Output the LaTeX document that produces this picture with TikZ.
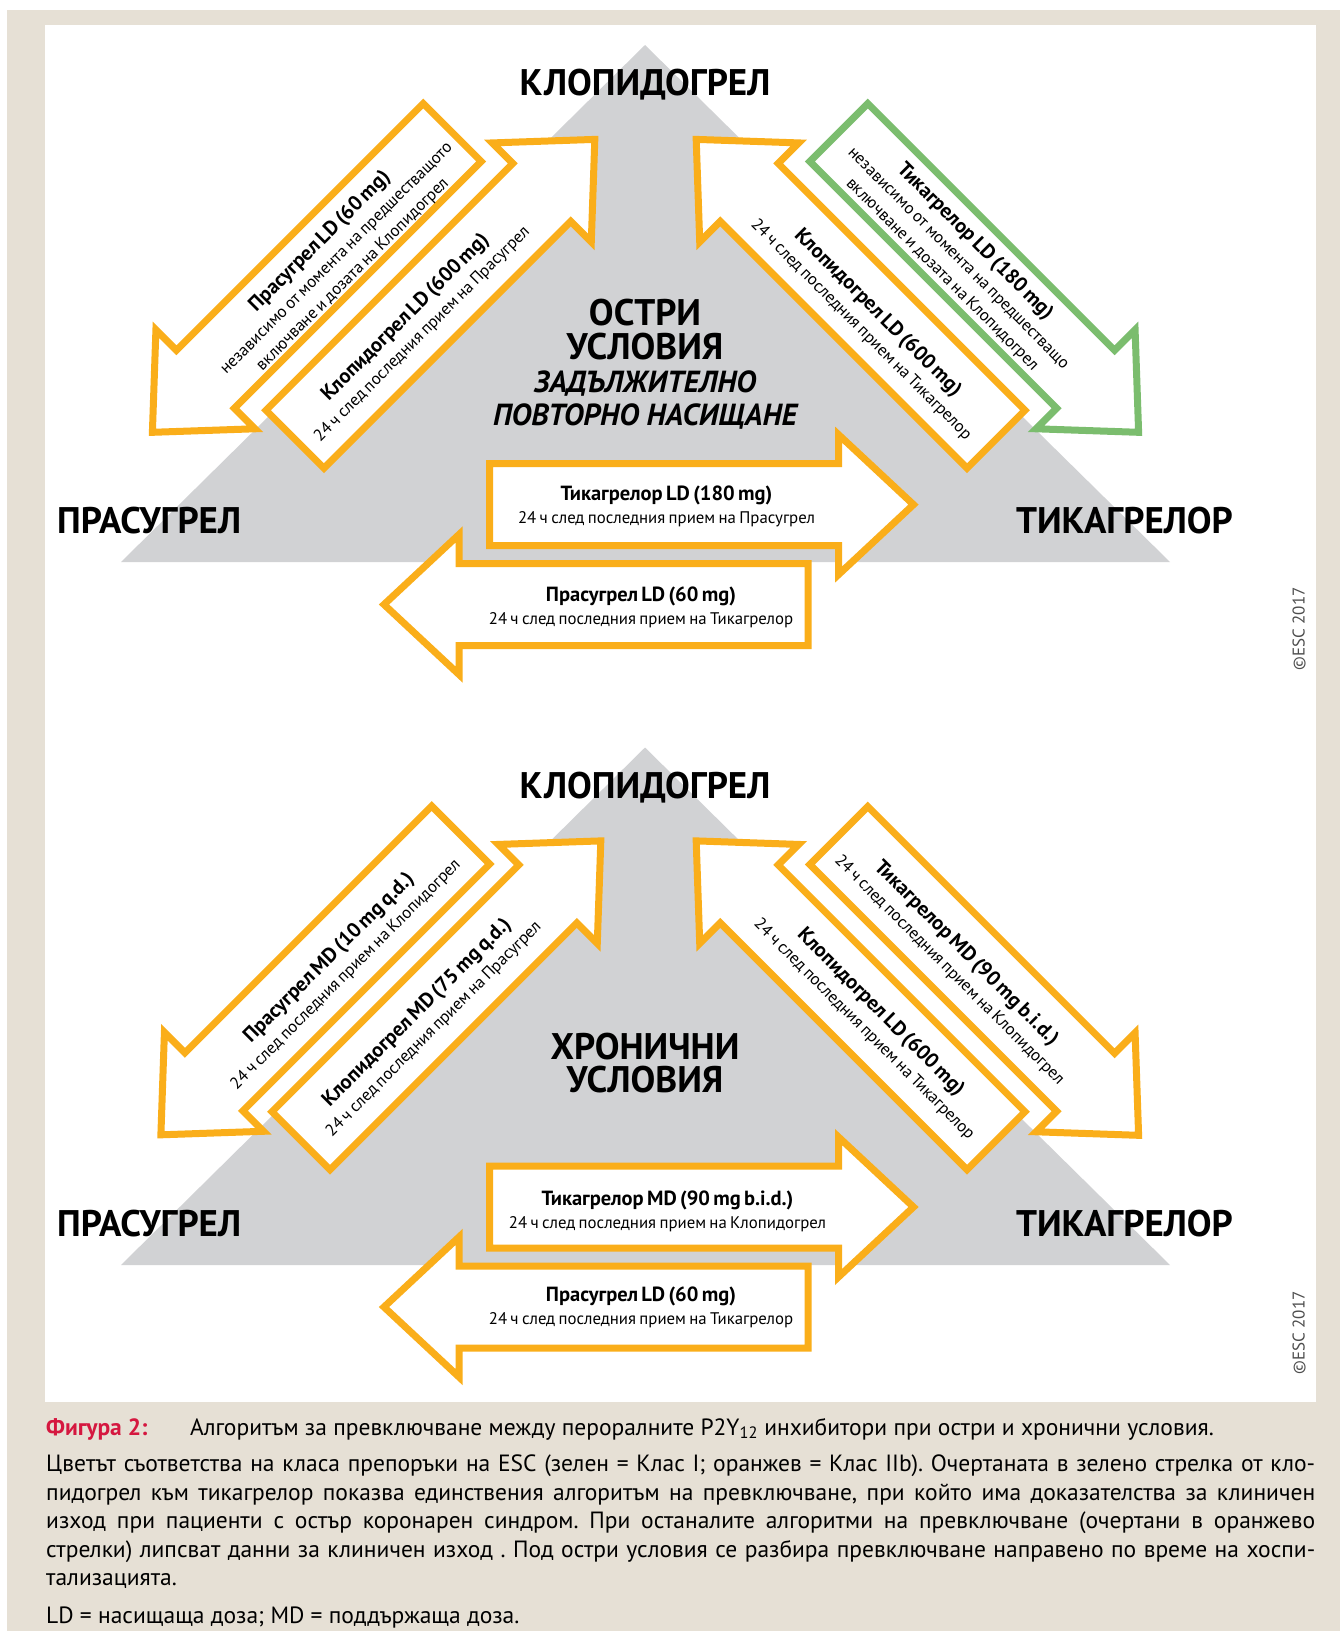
\documentclass[tikz,border=0pt]{standalone}
\usepackage{fontspec}
\setmainfont{PT Sans}

\definecolor{pagebg}{HTML}{E6E0D5}
\definecolor{trigray}{HTML}{D1D2D4}
\definecolor{orng}{HTML}{FAAE1A}
\definecolor{grn}{HTML}{7BBD6E}
\definecolor{figred}{HTML}{D5173F}
\definecolor{copygray}{HTML}{4D4D4D}

% Hollow block arrow: tail centre (#1,#2), direction #3 (degrees), outline colour #4
\newcommand{\outlinearrow}[4]{%
  \begin{scope}[shift={(#1,#2)},rotate=#3]
    \draw[arrowframe,draw=#4] (0,-41) -- (349,-41) -- (349,-70) -- (424,0)
      -- (349,70) -- (349,41) -- (0,41) -- cycle;
  \end{scope}}

% Text inside an arrow: bold dose line, then the regular lines
\newcommand{\doselabel}[2]{%
  {\bfseries\fontsize{20.5}{23}\selectfont #1\par}%
  {\fontsize{16.8}{22.8}\selectfont #2\par}}

\tikzset{
  arrowframe/.style={line width=7pt, fill=white, miter limit=10},
  dose/.style={text width=430pt, align=center, inner sep=0pt},
  drug/.style={font=\bfseries\fontsize{37}{40}\selectfont, inner sep=0pt, anchor=base},
  setting/.style={font=\bfseries\fontsize{37}{40}\selectfont, inner sep=0pt, anchor=base},
  reload/.style={font=\bfseries\itshape\fontsize{30.5}{36}\selectfont, inner sep=0pt, anchor=base},
  caption/.style={font=\fontsize{23.5}{28}\selectfont\frenchspacing, anchor=base west, inner sep=0pt},
  copyright/.style={font=\fontsize{17}{20}\selectfont, text=copygray, rotate=90, inner sep=0pt}
}

\begin{document}
\begin{tikzpicture}[x=1pt,y=-1pt]
\useasboundingbox (0,0) rectangle (1340,1631);
\fill[white] (0,0) rectangle (1340,1631);
\fill[pagebg] (7,10) rectangle (1340,1631);
\fill[white] (45,25) rectangle (1315.7,1402);

% ---------------- acute setting ----------------
\fill[trigray] (645,45) -- (1170,562) -- (121,562) -- cycle;

\outlinearrow{452.2}{132.5}{225}{orng}
\outlinearrow{295}{439.2}{45}{orng}
\outlinearrow{996}{439.2}{135}{orng}
\outlinearrow{838.8}{132.5}{-45}{grn}
\outlinearrow{489.5}{504.6}{0}{orng}
\outlinearrow{808}{604.5}{180}{orng}

\node[drug] (clopiA) at (645,95) {КЛОПИДОГРЕЛ};
\node[drug, anchor=base west] (prasA) at (57,533.5) {ПРАСУГРЕЛ};
\node[drug, anchor=base east] (ticaA) at (1233,533.5) {ТИКАГРЕЛОР};

\node[setting] (acute1) at (645,325.5) {ОСТРИ};
\node[setting] (acute2) at (645,359) {УСЛОВИЯ};
\node[reload] (reload1) at (645,392) {ЗАДЪЛЖИТЕЛНО};
\node[reload] (reload2) at (645,425.5) {ПОВТОРНО НАСИЩАНЕ};

\node[dose, rotate=45] (txtA) at (335.8,257.5)
  {\doselabel{Прасугрел LD (60 mg)}{независимо от момента на предшестващото\\включване и дозата на Клопидогрел}};
\node[dose, rotate=45] (txtB) at (413.3,325.4)
  {\doselabel{Клопидогрел LD (600 mg)}{24 ч след последния прием на Прасугрел}};
\node[dose, rotate=-45] (txtC) at (870,320.8)
  {\doselabel{Клопидогрел LD (600 mg)}{24 ч след последния прием на Тикагрелор}};
\node[dose, rotate=-45] (txtD) at (959.2,257.5)
  {\doselabel{Тикагрелор LD (180 mg)}{независимо от момента на предшестващо\\включване и дозата на Клопидогрел}};
\node[dose] (txtE) at (666.5,506)
  {\doselabel{Тикагрелор LD (180 mg)}{24 ч след последния прием на Прасугрел}};
\node[dose] (txtF) at (641,607.5)
  {\doselabel{Прасугрел LD (60 mg)}{24 ч след последния прием на Тикагрелор}};

\node[copyright] (escA) at (1299,629) {©ESC 2017};

% ---------------- chronic setting ----------------
\fill[trigray] (645,747.5) -- (1170,1265) -- (121,1265) -- cycle;

\outlinearrow{460.7}{835}{225}{orng}
\outlinearrow{301}{1140.7}{45}{orng}
\outlinearrow{996}{1140.7}{135}{orng}
\outlinearrow{838.8}{835.5}{-45}{orng}
\outlinearrow{489.5}{1207}{0}{orng}
\outlinearrow{808}{1307}{180}{orng}

\node[drug] (clopiB) at (645,798) {КЛОПИДОГРЕЛ};
\node[drug, anchor=base west] (prasB) at (57,1236) {ПРАСУГРЕЛ};
\node[drug, anchor=base east] (ticaB) at (1233,1236) {ТИКАГРЕЛОР};

\node[setting] (chronic1) at (645,1059) {ХРОНИЧНИ};
\node[setting] (chronic2) at (645,1092) {УСЛОВИЯ};

\node[dose, rotate=45] (txtA2) at (337,965.8)
  {\doselabel{Прасугрел MD (10 mg q.d.)}{24 ч след последния прием на Клопидогрел}};
\node[dose, rotate=45] (txtB2) at (425,1020.4)
  {\doselabel{Клопидогрел MD (75 mg q.d.)}{24 ч след последния прием на Прасугрел}};
\node[dose, rotate=-45] (txtC2) at (872.9,1020.4)
  {\doselabel{Клопидогрел LD (600 mg)}{24 ч след последния прием на Тикагрелор}};
\node[dose, rotate=-45] (txtD2) at (958.3,961.3)
  {\doselabel{Тикагрелор MD (90 mg b.i.d.)}{24 ч след последния прием на Клопидогрел}};
\node[dose] (txtE2) at (667.5,1211.5)
  {\doselabel{Тикагрелор MD (90 mg b.i.d.)}{24 ч след последния прием на Клопидогрел}};
\node[dose] (txtF2) at (641,1307)
  {\doselabel{Прасугрел LD (60 mg)}{24 ч след последния прием на Тикагрелор}};

\node[copyright] (escB) at (1299,1333) {©ESC 2017};

% ---------------- caption ----------------
\node[caption, font=\bfseries\fontsize{23.5}{28}\selectfont, text=figred] (figlabel) at (46,1435) {Фигура 2:};
\node[caption] (figtitle) at (190,1435)
  {Алгоритъм за превключване между пероралните P2Y\textsubscript{12} инхибитори при остри и хронични условия.};
\node[caption] (cap1) at (46,1471)
  {\hbox to 1269pt{Цветът съответства на класа препоръки на ESC (зелен = Клас I; оранжев = Клас IIb). Очертаната в зелено стрелка от кло-}};
\node[caption] (cap2) at (46,1500)
  {\hbox to 1269pt{пидогрел към тикагрелор показва единствения алгоритъм на превключване, при който има доказателства за клиничен}};
\node[caption] (cap3) at (46,1528)
  {\hbox to 1269pt{изход при пациенти с остър коронарен синдром. При останалите алгоритми на превключване (очертани в оранжево}};
\node[caption] (cap4) at (46,1557)
  {\hbox to 1269pt{стрелки) липсват данни за клиничен изход . Под остри условия се разбира превключване направено по време на хоспи-}};
\node[caption] (cap5) at (46,1585) {тализацията.};
\node[caption] (cap6) at (46,1623) {LD = насищаща доза; MD = поддържаща доза.};
\end{tikzpicture}
\end{document}
